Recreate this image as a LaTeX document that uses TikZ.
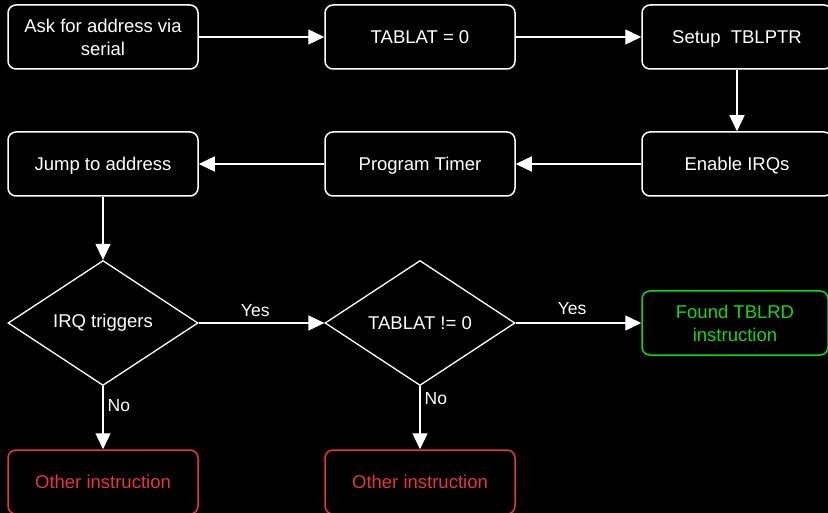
\documentclass[tikz,border=0pt]{standalone}
\usepackage{fontspec}
\setmainfont{Liberation Sans}
\usetikzlibrary{arrows.meta,shapes.geometric}
\definecolor{okgreen}{RGB}{20,215,20}
\definecolor{errred}{RGB}{230,55,55}
\begin{document}
\begin{tikzpicture}[x=1pt,y=-1pt,
  box/.style={draw=white,line width=1.5pt,rounded corners=8pt,minimum width=190pt,minimum height=64pt,
    text=white,font=\fontsize{18.5}{23}\selectfont,align=center,inner sep=0pt,text depth=0pt},
  goodbox/.style={box,draw=okgreen,text=okgreen},
  badbox/.style={box,draw=errred,text=errred},
  decision/.style={diamond,draw=white,line width=1.3pt,minimum width=190pt,minimum height=125pt,
    aspect=1.52,inner sep=0pt,text=white,font=\fontsize{18.5}{23}\selectfont},
  flow/.style={draw=white,line width=1.4pt,-{Triangle[width=15pt,length=16pt]}},
  lbl/.style={text=white,font=\fontsize{17.5}{20}\selectfont,inner sep=0pt}]
  \fill[black] (0,0) rectangle (828,513);
  \useasboundingbox (0,0) rectangle (828,513);

  % top row
  \node[box] (ask) at (103,37) {Ask for address via\\serial};
  \node[box] (clr) at (420,37) {TABLAT = 0};
  \node[box] (ptr) at (737,37) {Setup\ \ TBLPTR};
  % second row
  \node[box] (irq) at (737,164) {Enable IRQs};
  \node[box] (tmr) at (420,164) {Program Timer};
  \node[box] (jmp) at (103,164) {Jump to address};
  % decisions
  \node[decision] (trig) at (103,323) {IRQ triggers};
  \node[decision] (chk) at (420,323) {TABLAT != 0};
  % outcomes
  \node[goodbox,minimum width=186pt] (found) at (735,323) {Found TBLRD\\instruction};
  \node[badbox] (oth1) at (103,482) {Other instruction};
  \node[badbox] (oth2) at (420,482) {Other instruction};

  % connectors
  \draw[flow] (ask) -- (clr);
  \draw[flow] (clr) -- (ptr);
  \draw[flow] (ptr) -- (irq);
  \draw[flow] (irq) -- (tmr);
  \draw[flow] (tmr) -- (jmp);
  \draw[flow] (jmp) -- (trig);
  \draw[flow] (trig) -- node[lbl,above=6pt,pos=0.45] {Yes} (chk);
  \draw[flow] (chk) -- node[lbl,above=8pt,pos=0.45] {Yes} (found);
  \draw[flow] (trig) -- node[lbl,right=4pt,pos=0.3] {No} (oth1);
  \draw[flow] (chk) -- node[lbl,right=4pt,pos=0.2] {No} (oth2);
\end{tikzpicture}
\end{document}
